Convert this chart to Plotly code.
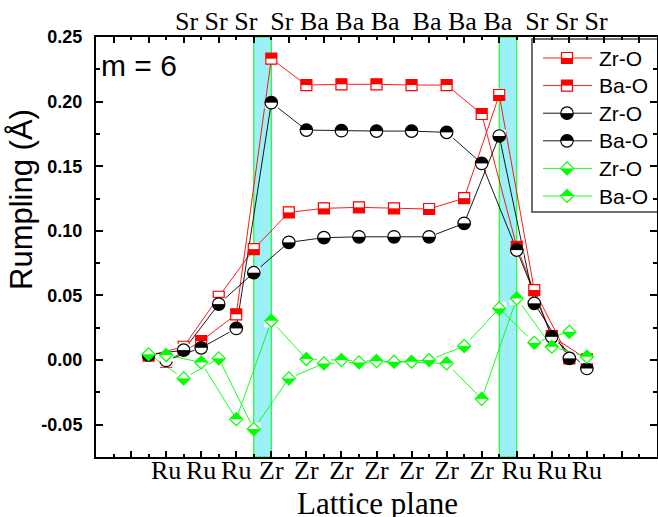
import plotly.graph_objects as go

# ---------------- data ----------------
plane_a = [0, 2, 4, 6, 8, 10, 12, 14, 16, 18, 20, 22, 24]      # A-site planes
plane_b = [1, 3, 5, 7, 9, 11, 13, 15, 17, 19, 21, 23, 25]      # B-site planes

red_a = [0.0035, 0.0103, 0.0490, 0.0859, 0.1143, 0.1174, 0.1182, 0.1174, 0.1169, 0.1253, 0.2051, 0.0542, 0.0013]
red_b = [-0.0013, 0.0147, 0.0354, 0.2332, 0.2128, 0.2134, 0.2134, 0.2128, 0.2128, 0.1904, 0.0877, 0.0186, 0.0005]
black_a = [0.0040, 0.0077, 0.0433, 0.0676, 0.0911, 0.0947, 0.0954, 0.0954, 0.0954, 0.1058, 0.1734, 0.0439, 0.0013]
black_b = [-0.0003, 0.0095, 0.0245, 0.1992, 0.1780, 0.1775, 0.1772, 0.1772, 0.1762, 0.1522, 0.0851, 0.0180, -0.0065]
green_a = [0.0045, -0.0142, 0.0013, -0.0534, -0.0142, -0.0026, -0.0018, -0.0013, 0.0000, 0.0108, 0.0400, 0.0134, 0.0219]
green_b = [0.0039, -0.0018, -0.0457, 0.0304, 0.0008, 0.0000, -0.0008, -0.0013, -0.0026, -0.0300, 0.0477, 0.0103, 0.0026]

a_site_labels = ["Sr", "Sr", "Sr", "Sr", "Ba", "Ba", "Ba", "Ba", "Ba", "Ba", "Sr", "Sr", "Sr"]
b_site_labels = ["Ru", "Ru", "Ru", "Zr", "Zr", "Zr", "Zr", "Zr", "Zr", "Zr", "Ru", "Ru", "Ru"]
a_label_groups = [3, 4, 3, 3]
interfaces = [(6, 7), (20, 21)]
legend_names = ["Zr-O", "Ba-O", "Zr-O", "Ba-O", "Zr-O", "Ba-O"]
y_ticks = [-0.05, 0.00, 0.05, 0.10, 0.15, 0.20, 0.25]
y_minor = [-0.025, 0.025, 0.075, 0.125, 0.175, 0.225]
x_range = [-3, 29]
y_range = [-0.075, 0.25]

RED, BLACK, GREEN = "#FF0000", "#000000", "#00FF00"

# ---------------- layout geometry ----------------
W, H = 658, 517
PL, PR, PT, PB = 96, 657, 37, 457


def px_x(p):
    return (p - PL) / (PR - PL)


def px_y(p):
    return (PB - p) / (PB - PT)


UP_MAIN = (y_range[1] - y_range[0]) / (PB - PT)   # data units per pixel upward

fig = go.Figure()


def add_half_markers(xs, ys, shape, color, filled, size, up_per_px, xa, ya):
    visual = size * 1.3 if shape == "diamond" else size
    common = dict(xaxis=xa, yaxis=ya, mode="markers", hoverinfo="skip", showlegend=False)
    fig.add_trace(go.Scatter(x=xs, y=ys, marker=dict(symbol=shape, size=size, color=color,
                                                    line=dict(width=0)), **common))
    sign = 1 if filled == "bottom" else -1
    off = sign * visual / 4.0 * up_per_px
    fig.add_trace(go.Scatter(x=xs, y=[v + off for v in ys],
                             marker=dict(symbol="line-ew", size=(visual + 1) / 1.4, color="white",
                                         line=dict(width=visual / 2.0, color="white")), **common))
    fig.add_trace(go.Scatter(x=xs, y=ys, marker=dict(symbol=shape + "-open", size=size, color=color,
                                                    line=dict(width=1.2)), **common))


series = [
    (plane_a, red_a, "square", RED, "bottom", 11),
    (plane_b, red_b, "square", RED, "top", 11),
    (plane_a, black_a, "circle", BLACK, "bottom", 12.5),
    (plane_b, black_b, "circle", BLACK, "top", 12.5),
    (plane_a, green_a, "diamond", GREEN, "bottom", 10),
    (plane_b, green_b, "diamond", GREEN, "top", 10),
]

# lines first
for xs, ys, shape, color, filled, size in series:
    fig.add_trace(go.Scatter(x=xs, y=ys, mode="lines", line=dict(color=color, width=0.9),
                             hoverinfo="skip", showlegend=False))
for xs, ys, shape, color, filled, size in series:
    add_half_markers(xs, ys, shape, color, filled, size, UP_MAIN, "x", "y")

# dummy trace for the top axis
fig.add_trace(go.Scatter(x=x_range, y=[None, None], xaxis="x2", yaxis="y", mode="markers",
                         hoverinfo="skip", showlegend=False))

# ---------------- custom legend (pixel-unit helper axes) ----------------
LG_L, LG_R, LG_T, LG_B = 532, 657, 39, 212
row_y = [58, 85.6, 113.2, 140.8, 168.4, 196]
for i, (xs, ys, shape, color, filled, size) in enumerate(series):
    fig.add_trace(go.Scatter(x=[543, 592], y=[row_y[i], row_y[i]], xaxis="x3", yaxis="y3",
                             mode="lines", line=dict(color=color, width=0.9),
                             hoverinfo="skip", showlegend=False))
    add_half_markers([567], [row_y[i]], shape, color, filled, size, -1.0, "x3", "y3")

shapes = []
for x0, x1 in interfaces:
    shapes.append(dict(type="rect", xref="x", yref="paper", x0=x0, x1=x1, y0=0, y1=1,
                       fillcolor="#9CF0F8", line=dict(color="#00FF00", width=1), layer="below"))
shapes.append(dict(type="rect", xref="paper", yref="paper", x0=px_x(LG_L), x1=px_x(664),
                   y0=px_y(LG_B), y1=px_y(LG_T), fillcolor="white",
                   line=dict(color="#404040", width=1.5), layer="below"))

annotations = []
for i, name in enumerate(legend_names):
    annotations.append(dict(text=name, xref="paper", yref="paper", x=px_x(597), y=px_y(row_y[i]),
                            xanchor="left", yanchor="middle", showarrow=False,
                            font=dict(family="Liberation Sans", size=21, color="black")))

# top (A-site) labels as one string
groups, idx = [], 0
for n in a_label_groups:
    groups.append(" ".join(a_site_labels[idx:idx + n]))
    idx += n
top_text = " \u00a0".join(groups)
annotations.append(dict(text=top_text, xref="paper", yref="paper", x=px_x(173), y=px_y(21.5),
                        xanchor="left", yanchor="middle", showarrow=False,
                        font=dict(family="Liberation Serif", size=26, color="black")))
annotations.append(dict(text="Lattice plane", xref="paper", yref="paper", x=px_x(377.5), y=px_y(503),
                        xanchor="center", yanchor="middle", showarrow=False,
                        font=dict(family="Liberation Serif", size=31, color="black")))
annotations.append(dict(text="Rumpling (Å)", xref="paper", yref="paper", x=px_x(22), y=px_y(200),
                        xanchor="center", yanchor="middle", textangle=-90, showarrow=False,
                        font=dict(family="Liberation Sans", size=31, color="black")))
annotations.append(dict(text="m = 6", xref="paper", yref="paper", x=px_x(99), y=px_y(66),
                        xanchor="left", yanchor="middle", showarrow=False,
                        font=dict(family="Liberation Sans", size=30, color="black")))

bottom_tickvals = [-1] + plane_b + [27]
bottom_ticktext = [""] + b_site_labels + [""]
top_tickvals = [-2] + plane_a + [26, 28]

fig.update_layout(
    width=W, height=H,
    margin=dict(l=PL, r=W - PR, t=PT, b=H - PB, autoexpand=False),
    paper_bgcolor="white", plot_bgcolor="rgba(0,0,0,0)",
    showlegend=False, hovermode=False,
    shapes=shapes, annotations=annotations,
    xaxis=dict(range=x_range, showline=True, linecolor="black", linewidth=2, mirror=False,
               ticks="inside", ticklen=6, tickwidth=1.5, tickcolor="black",
               tickmode="array", tickvals=bottom_tickvals, ticktext=bottom_ticktext,
               tickfont=dict(family="Liberation Serif", size=26, color="black"),
               ticklabelstandoff=-11,
               minor=dict(tickmode="array", tickvals=top_tickvals, ticks="inside", ticklen=3,
                          tickwidth=1.5, tickcolor="black"),
               showgrid=False, zeroline=False, fixedrange=True),
    xaxis2=dict(range=x_range, overlaying="x", side="top", anchor="y", showline=True,
                linecolor="black", linewidth=2, ticks="inside", ticklen=6, tickwidth=1.5,
                tickcolor="black", tickmode="array", tickvals=top_tickvals, showticklabels=False,
                minor=dict(tickmode="array", tickvals=bottom_tickvals, ticks="inside", ticklen=3,
                           tickwidth=1.5, tickcolor="black"),
                showgrid=False, zeroline=False, fixedrange=True),
    yaxis=dict(range=y_range, showline=True, linecolor="black", linewidth=2, mirror="ticks",
               ticks="inside", ticklen=7, tickwidth=1.5, tickcolor="black",
               tickmode="array", tickvals=y_ticks, ticktext=[f"{v:.2f}" for v in y_ticks],
               tickfont=dict(family="Liberation Sans", size=18, color="black", weight="bold"),
               ticklabelstandoff=8,
               minor=dict(tickmode="array", tickvals=y_minor, ticks="inside", ticklen=4,
                          tickwidth=1.5, tickcolor="black"),
               showgrid=False, zeroline=False, fixedrange=True),
    xaxis3=dict(domain=[px_x(LG_L), 1.0], range=[LG_L, LG_R], visible=False, anchor="y3",
                fixedrange=True),
    yaxis3=dict(domain=[px_y(LG_B), px_y(LG_T)], range=[LG_B, LG_T], visible=False, anchor="x3",
                fixedrange=True),
)

fig.write_html("out.html", config={"displayModeBar": False},
               post_script="document.body.style.margin='0';document.body.style.overflow='hidden';")
